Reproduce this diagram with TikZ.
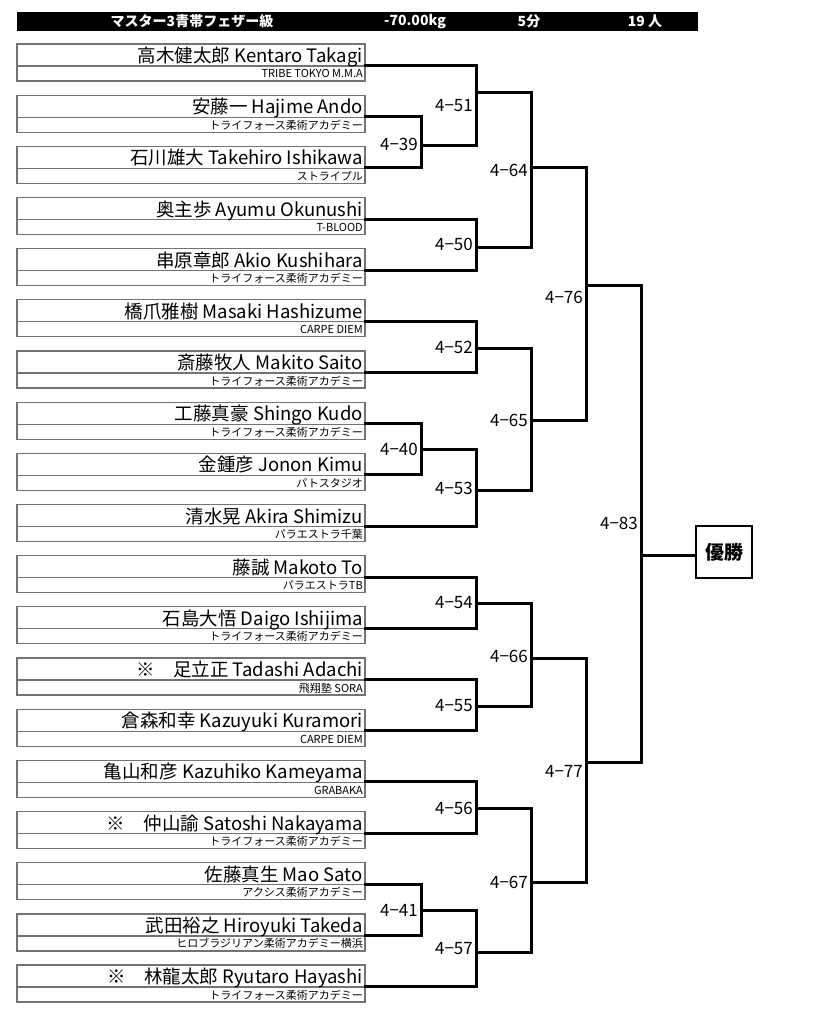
\documentclass[tikz,border=0pt]{standalone}
\usepackage{fontspec}
\setmainfont{Noto Sans CJK JP}
\usetikzlibrary{calc}
\tikzset{
  boxline/.style={draw=black!55,line width=1.2pt},
  conn/.style={draw=black,line width=3pt,line join=miter,line cap=rect},
  nm/.style={anchor=base east,inner sep=0pt,font=\fontsize{18.5}{20}\selectfont},
  cl/.style={anchor=base east,inner sep=0pt,font=\fontsize{11}{12}\selectfont},
  lab/.style={anchor=east,inner sep=1pt,font=\fontsize{17}{19}\selectfont},
  hdr/.style={inner sep=0pt,text=white,font=\bfseries\fontsize{14}{16}\selectfont},
}
\begin{document}
\begin{tikzpicture}[x=1pt,y=-1pt]
\useasboundingbox (0,0) rectangle (817,1024);
% header
\fill[black] (17,12) rectangle (698,31);
\node[hdr] (h1) at (192,21.5) {マスター3青帯フェザー級};
\node[hdr] (h2) at (415,21.5) {-70.00kg};
\node[hdr] (h3) at (529,21.5) {5分};
\node[hdr] (h4) at (645,21.5) {19 人};
% entries
\foreach \i/\nm/\cl in {
 1/{高木健太郎 Kentaro Takagi}/{TRIBE TOKYO M.M.A},
 2/{安藤一 Hajime Ando}/{トライフォース柔術アカデミー},
 3/{石川雄大 Takehiro Ishikawa}/{ストライプル},
 4/{奥主歩 Ayumu Okunushi}/{T-BLOOD},
 5/{串原章郎 Akio Kushihara}/{トライフォース柔術アカデミー},
 6/{橋爪雅樹 Masaki Hashizume}/{CARPE DIEM},
 7/{斎藤牧人 Makito Saito}/{トライフォース柔術アカデミー},
 8/{工藤真豪 Shingo Kudo}/{トライフォース柔術アカデミー},
 9/{金鍾彦 Jonon Kimu}/{パトスタジオ},
 10/{清水晃 Akira Shimizu}/{パラエストラ千葉},
 11/{藤誠 Makoto To}/{パラエストラTB},
 12/{石島大悟 Daigo Ishijima}/{トライフォース柔術アカデミー},
 13/{※　足立正 Tadashi Adachi}/{飛翔塾 SORA},
 14/{倉森和幸 Kazuyuki Kuramori}/{CARPE DIEM},
 15/{亀山和彦 Kazuhiko Kameyama}/{GRABAKA},
 16/{※　仲山諭 Satoshi Nakayama}/{トライフォース柔術アカデミー},
 17/{佐藤真生 Mao Sato}/{アクシス柔術アカデミー},
 18/{武田裕之 Hiroyuki Takeda}/{ヒロブラジリアン柔術アカデミー横浜},
 19/{※　林龍太郎 Ryutaro Hayashi}/{トライフォース柔術アカデミー}}{
  \pgfmathsetmacro\T{44+51.17*(\i-1)}
  \draw[boxline] (17,\T) rectangle (365,\T+37);
  \draw[boxline] (17,\T+22) -- (365,\T+22);
  \node[nm] (n\i) at (363,\T+18.5) {\nm};
  \node[cl] (c\i) at (363,\T+34) {\cl};
  \coordinate (e\i) at (365,\T+21.5);
}
% match points
\coordinate (m39) at (421,146);
\coordinate (m40) at (421,449);
\coordinate (m41) at (421,910);
\coordinate (m51) at (476,93);
\coordinate (m50) at (476,247);
\coordinate (m52) at (476,348);
\coordinate (m53) at (476,490);
\coordinate (m54) at (476,603);
\coordinate (m55) at (476,706);
\coordinate (m56) at (476,808);
\coordinate (m57) at (476,952);
\coordinate (m64) at (531,168);
\coordinate (m65) at (531,420);
\coordinate (m66) at (531,658);
\coordinate (m67) at (531,882);
\coordinate (m76) at (586,285);
\coordinate (m77) at (586,762);
\coordinate (m83) at (641,555);
% brackets
\draw[conn] (e2) -| (m39) |- (e3);
\draw[conn] (e8) -| (m40) |- (e9);
\draw[conn] (e17) -| (m41) |- (e18);
\draw[conn] (e1) -| (m51) |- (m39);
\draw[conn] (e4) -| (m50) |- (e5);
\draw[conn] (e6) -| (m52) |- (e7);
\draw[conn] (m40) -| (m53) |- (e10);
\draw[conn] (e11) -| (m54) |- (e12);
\draw[conn] (e13) -| (m55) |- (e14);
\draw[conn] (e15) -| (m56) |- (e16);
\draw[conn] (m41) -| (m57) |- (e19);
\draw[conn] (m51) -| (m64) |- (m50);
\draw[conn] (m52) -| (m65) |- (m53);
\draw[conn] (m54) -| (m66) |- (m55);
\draw[conn] (m56) -| (m67) |- (m57);
\draw[conn] (m64) -| (m76) |- (m65);
\draw[conn] (m66) -| (m77) |- (m67);
\draw[conn] (m76) -| (m83) |- (m77);
% winner
\node[draw=black,line width=1.8pt,minimum width=56pt,minimum height=52pt,inner sep=0pt,font=\bfseries\fontsize{19}{21}\selectfont] (win) at (724,552) {優勝};
\draw[conn] (m83) -- (m83 -| win.west);
% labels
\node[lab] (l39) at (419,144) {4−39};
\node[lab] (l40) at (419,449) {4−40};
\node[lab] (l41) at (419,910) {4−41};
\node[lab] (l51) at (474,106) {4−51};
\node[lab] (l50) at (474,244) {4−50};
\node[lab] (l52) at (474,347) {4−52};
\node[lab] (l53) at (474,488) {4−53};
\node[lab] (l54) at (474,603) {4−54};
\node[lab] (l55) at (474,706) {4−55};
\node[lab] (l56) at (474,808) {4−56};
\node[lab] (l57) at (474,949) {4−57};
\node[lab] (l64) at (529,170) {4−64};
\node[lab] (l65) at (529,420) {4−65};
\node[lab] (l66) at (529,656) {4−66};
\node[lab] (l67) at (529,882) {4−67};
\node[lab] (l76) at (584,297) {4−76};
\node[lab] (l77) at (584,771) {4−77};
\node[lab] (l83) at (639,523) {4−83};
\end{tikzpicture}
\end{document}
